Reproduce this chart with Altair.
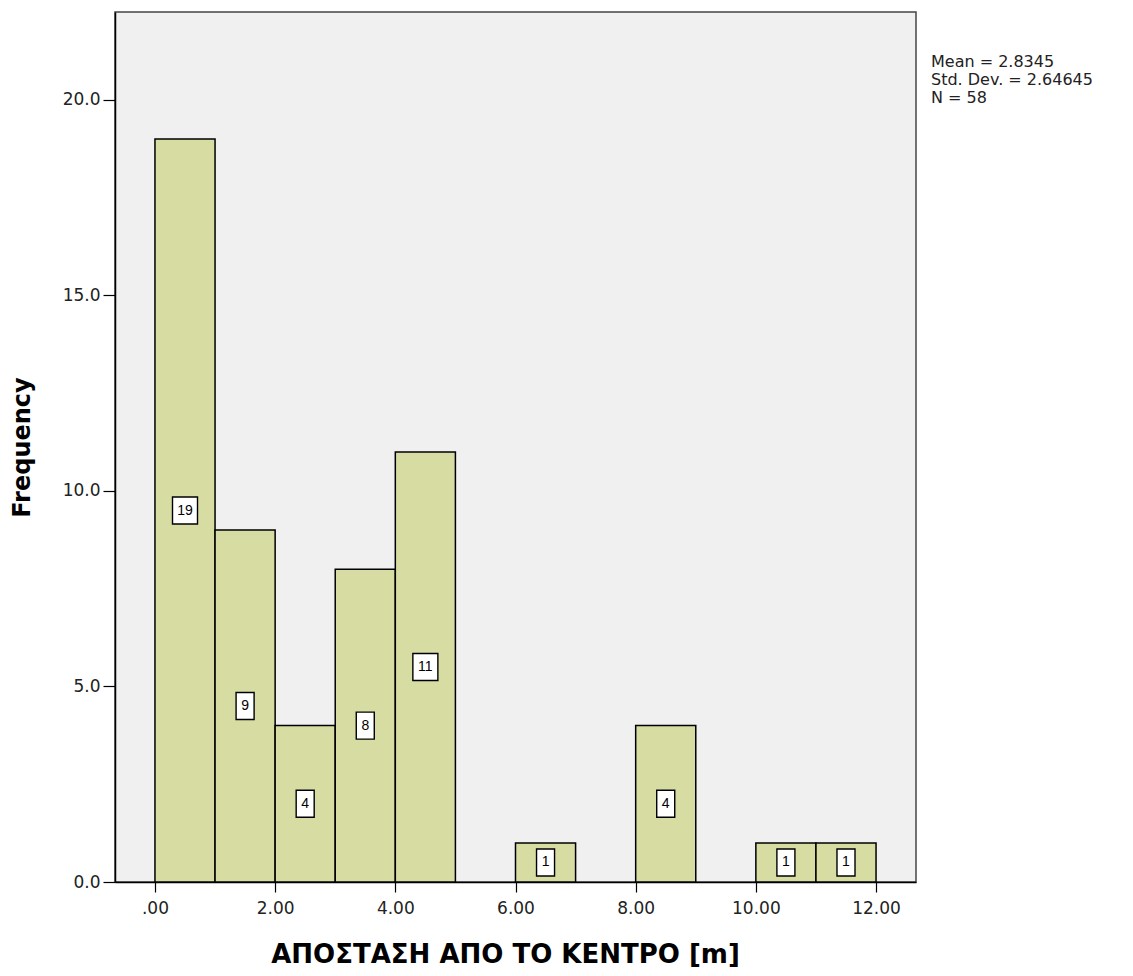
import altair as alt
import pandas as pd

# Histogram bins (1 m wide) and their frequencies
bin_start = [0, 1, 2, 3, 4, 6, 8, 10, 11]
bin_end = [1, 2, 3, 4, 5, 7, 9, 11, 12]
counts = [19, 9, 4, 8, 11, 1, 4, 1, 1]

stats_lines = ["Mean = 2.8345", "Std. Dev. = 2.64645", "N = 58"]

x_ticks = [0, 2, 4, 6, 8, 10, 12]
y_ticks = [0, 5, 10, 15, 20]

df = pd.DataFrame({"start": bin_start, "end": bin_end, "count": counts})
df["mid"] = (df["start"] + df["end"]) / 2
df["half"] = df["count"] / 2

W, H = 801, 870
FONT = "DejaVu Sans"

xs = alt.Scale(domain=[-0.665, 12.665], nice=False, zero=False)
ys = alt.Scale(domain=[0, 22.25], nice=False, zero=False)

x_axis = alt.Axis(
    values=x_ticks,
    labelExpr="datum.value == 0 ? '.00' : format(datum.value, '.2f')",
    title="ΑΠΟΣΤΑΣΗ ΑΠΟ ΤΟ ΚΕΝΤΡΟ [m]",
    titleFont=FONT, titleFontSize=26, titleFontWeight="bold", titleColor="black",
    titlePadding=25, titleX=390,
    labelFont=FONT, labelFontSize=17, labelColor="#222222", labelPadding=8,
    tickSize=10, tickColor="black", domainColor="black", domainWidth=1.5,
    tickWidth=1.2, grid=False,
)
y_axis = alt.Axis(
    values=y_ticks,
    format=".1f",
    title="Frequency",
    titleFont=FONT, titleFontSize=24, titleFontWeight="bold", titleColor="black",
    titlePadding=28,
    labelFont=FONT, labelFontSize=17, labelColor="#222222", labelPadding=3,
    tickSize=12, tickColor="black", domainColor="black", domainWidth=1.5,
    tickWidth=1.2, grid=False,
)

bars = alt.Chart(df).mark_rect(
    fill="#d7dca3", stroke="black", strokeWidth=1.5
).encode(
    x=alt.X("start:Q", scale=xs, axis=x_axis),
    x2="end:Q",
    y=alt.Y("count:Q", scale=ys, axis=y_axis),
    y2=alt.datum(0),
)

# White value boxes centred half-way up each bar (narrower for one digit)
NARROW_BOX = "M-0.667,-1L0.667,-1L0.667,1L-0.667,1Z"
WIDE_BOX = "M-0.926,-1L0.926,-1L0.926,1L-0.926,1Z"


def value_box(shape, test):
    return alt.Chart(df).transform_filter(test).mark_point(
        shape=shape, size=729, filled=True, fill="white",
        stroke="black", strokeWidth=1.4, opacity=1,
    ).encode(
        x=alt.X("mid:Q", scale=xs),
        y=alt.Y("half:Q", scale=ys),
    )


box_1 = value_box(NARROW_BOX, "datum.count < 10")
box_2 = value_box(WIDE_BOX, "datum.count >= 10")

label_text = alt.Chart(df).mark_text(
    font="Liberation Sans", fontSize=14, color="black",
    baseline="middle", align="center"
).encode(
    x=alt.X("mid:Q", scale=xs),
    y=alt.Y("half:Q", scale=ys),
    text="count:Q",
)

stats_layers = []
for i, line in enumerate(stats_lines):
    stats_layers.append(
        alt.Chart(pd.DataFrame({"line": [line]})).mark_text(
            font=FONT, fontSize=16, color="#222222",
            align="left", baseline="middle",
        ).encode(
            x=alt.value(W + 15),
            y=alt.value(50 + 18 * i),
            text="line:N",
        )
    )

chart = alt.layer(bars, box_1, box_2, label_text, *stats_layers).properties(
    width=W,
    height=H,
    autosize=alt.AutoSizeParams(type="none"),
    padding={"left": 115, "top": 12, "right": 217, "bottom": 94},
    background="white",
).configure_view(
    fill="#f0f0f0", stroke="#444444", strokeWidth=1.5
)

chart.save("out.html", embed_options={"renderer": "svg", "actions": False})
